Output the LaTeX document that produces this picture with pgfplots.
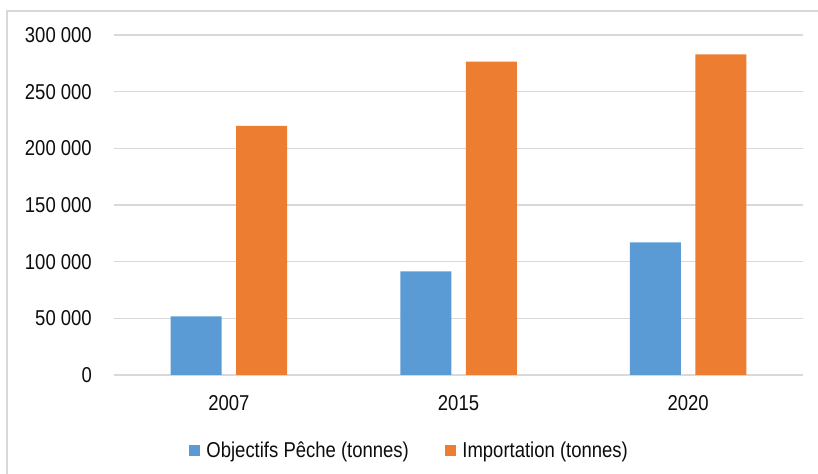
\documentclass[border=0pt]{standalone}
\usepackage{pgfplots}
\pgfplotsset{compat=1.18}
\usepackage{fontspec}
\setmainfont{Liberation Sans}
\newfontfamily\chartfont[FakeStretch=0.86]{Liberation Sans}
\definecolor{cblue}{HTML}{5B9BD5}
\definecolor{corange}{HTML}{ED7D31}
\definecolor{cgrid}{HTML}{D9D9D9}
\definecolor{ctext}{HTML}{0D0D0D}
\begin{document}
\begin{tikzpicture}[x=1bp,y=1bp]
\useasboundingbox (-114,-99) rectangle (704,375);
\draw[cgrid, line width=2bp] (-107,-99) -- (-107,364) -- (704,364);
\begin{axis}[
  at={(0,0)}, anchor=south west,
  scale only axis, width=689bp, height=340bp,
  xmin=-0.5, xmax=2.5, ymin=0, ymax=300000,
  ytick={0,50000,100000,150000,200000,250000,300000},
  yticklabels={0,50 000,100 000,150 000,200 000,250 000,300 000},
  xtick={0,1,2}, xticklabels={2007,2015,2020},
  scaled y ticks=false,
  axis line style={draw=none},
  major tick length=0pt,
  ymajorgrids, grid style={cgrid, line width=1.2bp},
  tick label style={font=\chartfont\fontsize{21.5bp}{24bp}\selectfont, text=ctext},
  yticklabel style={inner sep=0pt, anchor=east, xshift=-22bp},
  xticklabel style={inner sep=0pt, anchor=north, yshift=-20bp},
  ybar, bar width=51bp,
  legend style={at={(0.4273,-0.2206)}, anchor=center, draw=none,
    font=\chartfont\fontsize{21.5bp}{24bp}\selectfont, text=ctext,
    nodes={inner xsep=0pt, inner ysep=1bp},
    /tikz/every odd column/.append style={column sep=6bp},
    /tikz/every even column/.append style={column sep=36bp}},
  legend columns=2,
  legend image code/.code={\fill[#1] (0bp,-5.5bp) rectangle (11.5bp,5.5bp);},
]
\addplot[fill=cblue, draw=none, bar shift=-32.75bp] coordinates {(0,51800) (1,91500) (2,117100)};
\addplot[fill=corange, draw=none, bar shift=32.75bp] coordinates {(0,219800) (1,276500) (2,282800)};
\legend{Objectifs Pêche (tonnes), Importation (tonnes)}
\end{axis}
\end{tikzpicture}
\end{document}
